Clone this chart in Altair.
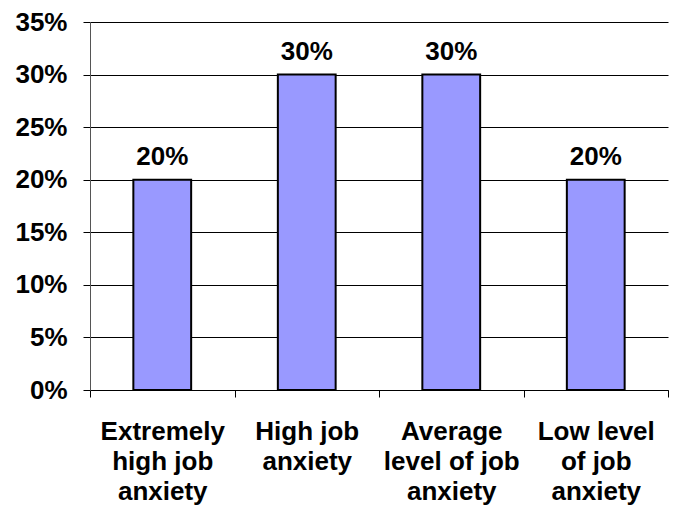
import altair as alt
import pandas as pd

categories = ["Extremely\nhigh job\nanxiety", "High job\nanxiety",
              "Average\nlevel of job\nanxiety", "Low level\nof job\nanxiety"]
values = [0.20, 0.30, 0.30, 0.20]
y_ticks = [0, 0.05, 0.10, 0.15, 0.20, 0.25, 0.30, 0.35]

df = pd.DataFrame({"category": categories, "value": values})

FONT = "Liberation Sans"
FS = 26

x = alt.X("category:N", sort=categories, title=None,
          scale=alt.Scale(paddingInner=0, paddingOuter=0),
          axis=alt.Axis(labelExpr="split(datum.label, '\\n')", labelAngle=0,
                        labelFont=FONT, labelFontSize=FS, labelFontWeight="bold",
                        labelColor="black", labelLineHeight=30, labelPadding=21,
                        tickBand="extent", tickSize=7, tickColor="black",
                        domainColor="black", labelBaseline="top"))
y = alt.Y("value:Q", title=None,
          scale=alt.Scale(domain=[0, 0.35], nice=False),
          axis=alt.Axis(values=y_ticks, format=".0%", labelFont=FONT,
                        labelFontSize=FS, labelFontWeight="bold", labelColor="black",
                        tickSize=7, tickColor="black", domainColor="#555555",
                        gridColor="black", gridOpacity=1, gridWidth=1, labelPadding=16))

bars = alt.Chart(df).mark_bar(width=alt.RelativeBandSize(0.4), color="#9999FF",
                              stroke="black", strokeWidth=2).encode(x=x, y=y)
labels = alt.Chart(df).mark_text(font=FONT, fontSize=FS, fontWeight="bold",
                                 baseline="bottom", dy=-10, color="black").encode(
    x=alt.X("category:N", sort=categories),
    y="value:Q",
    text=alt.Text("value:Q", format=".0%"))

chart = (bars + labels).properties(
    width=578, height=368,
    autosize=alt.AutoSizeParams(type="none"),
    padding={"left": 82, "top": 14, "right": 2, "bottom": 116}
).configure_view(stroke=None).configure_axisX(grid=False)

chart.save("out.html", embed_options={"renderer": "svg", "actions": False})
